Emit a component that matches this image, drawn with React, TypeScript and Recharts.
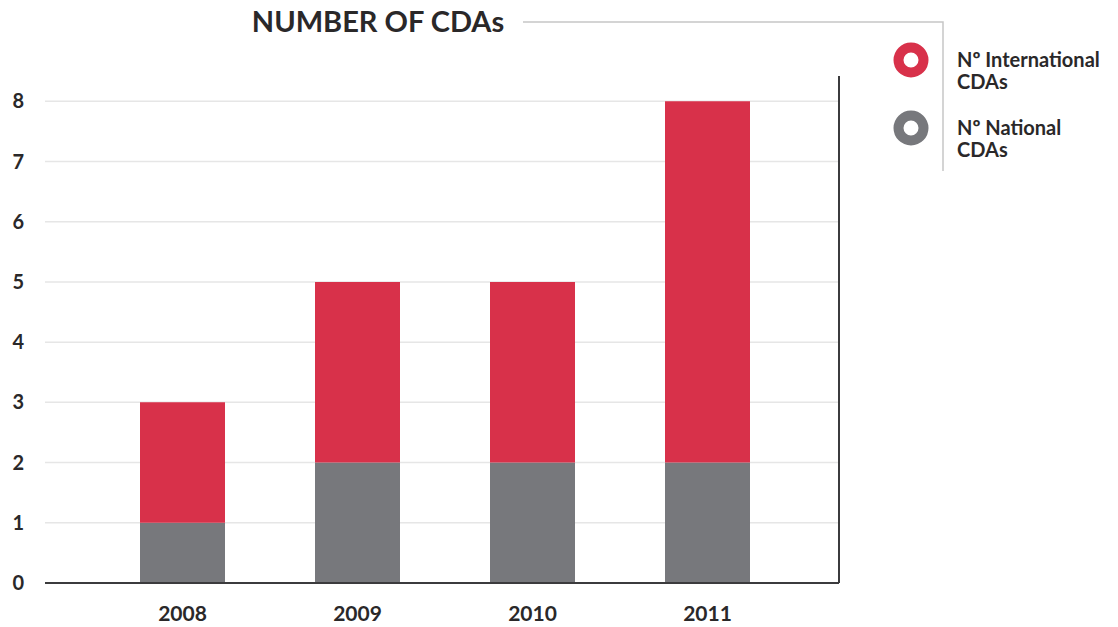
import React from 'react';
import { BarChart, Bar, XAxis, YAxis, CartesianGrid } from 'recharts';

const years = ['2008', '2009', '2010', '2011'];
const nationalCdas = [1, 2, 2, 2];
const internationalCdas = [2, 3, 3, 6];
const yTicks = [0, 1, 2, 3, 4, 5, 6, 7, 8];
const Y_MAX = 8.42;

const RED = '#d8314a';
const GREY = '#77787c';
const INK = '#2a2829';
const AXIS = '#3b3b3d';
const FONT = 'Lato, "Open Sans", sans-serif';

const chartData = years.map((year, i) => ({
  year,
  national: nationalCdas[i],
  international: internationalCdas[i],
}));

const legendItems = [
  { lines: ['Nº International', 'CDAs'], color: RED, cy: 60 },
  { lines: ['Nº National', 'CDAs'], color: GREY, cy: 128 },
];

const tickStyle = { fill: INK, fontSize: 21, fontWeight: 700, fontFamily: FONT };

// gridlines only at the ticks above zero (no line along the top of the plot)
const gridRows = ({ yAxis, offset }: any) =>
  yTicks
    .filter(t => t > 0)
    .map(t =>
      yAxis && typeof yAxis.scale === 'function'
        ? yAxis.scale(t)
        : offset.top + offset.height * (1 - t / Y_MAX)
    );

const App: React.FC = () => {
  return (
    <div style={{ position: 'absolute', left: 0, top: 0, width: 1118, height: 627, fontFamily: FONT }}>
      <BarChart
        width={1118}
        height={627}
        data={chartData}
        margin={{ top: 76, right: 279, bottom: 0, left: 0 }}
      >
        <CartesianGrid
          vertical={false}
          stroke="#e6e6e6"
          strokeWidth={1.5}
          horizontalCoordinatesGenerator={gridRows}
        />
        {/* dark right edge of the plot frame */}
        <CartesianGrid
          horizontal={false}
          stroke={AXIS}
          strokeWidth={2}
          verticalCoordinatesGenerator={({ offset }: any) => [offset.left + offset.width]}
        />
        <XAxis
          dataKey="year"
          height={44}
          padding={{ left: 50, right: 44 }}
          axisLine={{ stroke: AXIS, strokeWidth: 2 }}
          tickLine={false}
          tickSize={0}
          tickMargin={23}
          tick={tickStyle}
        />
        <YAxis
          width={45}
          domain={[0, Y_MAX]}
          ticks={yTicks}
          axisLine={false}
          tickLine={false}
          tickSize={0}
          tickMargin={21}
          tick={{ ...tickStyle, fontSize: 20 }}
        />
        <Bar dataKey="national" stackId="cda" fill={GREY} barSize={85} isAnimationActive={false} />
        <Bar dataKey="international" stackId="cda" fill={RED} barSize={85} isAnimationActive={false} />
      </BarChart>

      <svg
        width={1118}
        height={627}
        style={{ position: 'absolute', left: 0, top: 0, pointerEvents: 'none' }}
      >
        <text x={378} y={32} textAnchor="middle" fontSize={29} fontWeight={700} fill={INK} fontFamily={FONT}>
          NUMBER OF CDAs
        </text>
        <polyline points="523,22 943,22 943,171" fill="none" stroke="#c6c6c6" strokeWidth={1.5} />
        {legendItems.map(item => (
          <g key={item.lines[0]}>
            <circle cx={911} cy={item.cy} r={12.5} fill="#fff" stroke={item.color} strokeWidth={10} />
            {item.lines.map((line, j) => (
              <text
                key={j}
                x={957}
                y={item.cy + 7 + j * 22}
                fontSize={20}
                fontWeight={700}
                fill={INK}
                fontFamily={FONT}
              >
                {line}
              </text>
            ))}
          </g>
        ))}
      </svg>
    </div>
  );
};

export default App;
